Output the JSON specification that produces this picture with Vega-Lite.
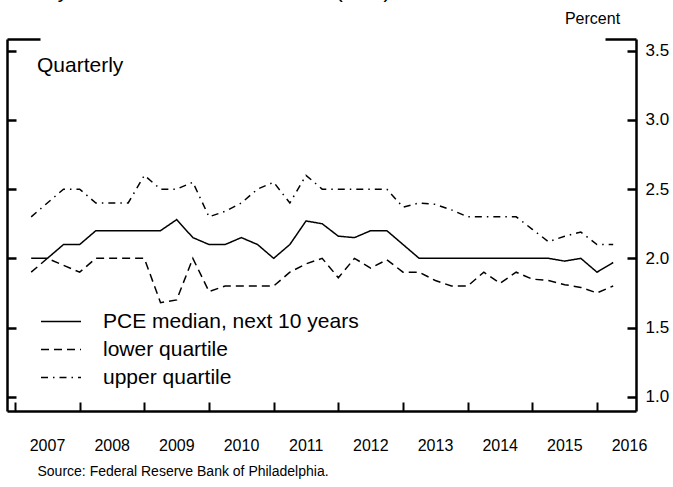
{
  "$schema": "https://vega.github.io/schema/vega-lite/v6.json",
  "width": 629,
  "height": 372,
  "autosize": {"type": "none"},
  "padding": {"left": 7, "top": 39, "right": 37, "bottom": 76},
  "background": "white",
  "title": {
    "text": "Survey of Professional Forecasters (SPF)",
    "anchor": "start",
    "frame": "group",
    "fontSize": 21,
    "fontWeight": "normal",
    "font": "Liberation Sans",
    "color": "black",
    "baseline": "alphabetic",
    "offset": 8,
    "dx": -4,
    "dy": 17
  },
  "config": {
    "view": {"stroke": null},
    "font": "Liberation Sans",
    "axis": {
      "domainColor": "black",
      "tickColor": "black",
      "labelColor": "black",
      "titleColor": "black",
      "grid": false,
      "labelFont": "Liberation Sans",
      "titleFont": "Liberation Sans"
    }
  },
  "datasets": {
    "spf": [
      {"t": 2007.25, "PCE median, next 10 years": 2.0, "lower quartile": 1.9, "upper quartile": 2.3},
      {"t": 2007.5, "PCE median, next 10 years": 2.0, "lower quartile": 2.0, "upper quartile": 2.4},
      {"t": 2007.75, "PCE median, next 10 years": 2.1, "lower quartile": 1.95, "upper quartile": 2.5},
      {"t": 2008.0, "PCE median, next 10 years": 2.1, "lower quartile": 1.9, "upper quartile": 2.5},
      {"t": 2008.25, "PCE median, next 10 years": 2.2, "lower quartile": 2.0, "upper quartile": 2.4},
      {"t": 2008.5, "PCE median, next 10 years": 2.2, "lower quartile": 2.0, "upper quartile": 2.4},
      {"t": 2008.75, "PCE median, next 10 years": 2.2, "lower quartile": 2.0, "upper quartile": 2.4},
      {"t": 2009.0, "PCE median, next 10 years": 2.2, "lower quartile": 2.0, "upper quartile": 2.6},
      {"t": 2009.25, "PCE median, next 10 years": 2.2, "lower quartile": 1.68, "upper quartile": 2.5},
      {"t": 2009.5, "PCE median, next 10 years": 2.28, "lower quartile": 1.7, "upper quartile": 2.5},
      {"t": 2009.75, "PCE median, next 10 years": 2.15, "lower quartile": 2.0, "upper quartile": 2.55},
      {"t": 2010.0, "PCE median, next 10 years": 2.1, "lower quartile": 1.76, "upper quartile": 2.3},
      {"t": 2010.25, "PCE median, next 10 years": 2.1, "lower quartile": 1.8, "upper quartile": 2.34},
      {"t": 2010.5, "PCE median, next 10 years": 2.15, "lower quartile": 1.8, "upper quartile": 2.4},
      {"t": 2010.75, "PCE median, next 10 years": 2.1, "lower quartile": 1.8, "upper quartile": 2.5},
      {"t": 2011.0, "PCE median, next 10 years": 2.0, "lower quartile": 1.8, "upper quartile": 2.55},
      {"t": 2011.25, "PCE median, next 10 years": 2.1, "lower quartile": 1.9, "upper quartile": 2.4},
      {"t": 2011.5, "PCE median, next 10 years": 2.27, "lower quartile": 1.96, "upper quartile": 2.6},
      {"t": 2011.75, "PCE median, next 10 years": 2.25, "lower quartile": 2.0, "upper quartile": 2.5},
      {"t": 2012.0, "PCE median, next 10 years": 2.16, "lower quartile": 1.86, "upper quartile": 2.5},
      {"t": 2012.25, "PCE median, next 10 years": 2.15, "lower quartile": 2.0, "upper quartile": 2.5},
      {"t": 2012.5, "PCE median, next 10 years": 2.2, "lower quartile": 1.93, "upper quartile": 2.5},
      {"t": 2012.75, "PCE median, next 10 years": 2.2, "lower quartile": 1.99, "upper quartile": 2.5},
      {"t": 2013.0, "PCE median, next 10 years": 2.1, "lower quartile": 1.9, "upper quartile": 2.37},
      {"t": 2013.25, "PCE median, next 10 years": 2.0, "lower quartile": 1.9, "upper quartile": 2.4},
      {"t": 2013.5, "PCE median, next 10 years": 2.0, "lower quartile": 1.84, "upper quartile": 2.39},
      {"t": 2013.75, "PCE median, next 10 years": 2.0, "lower quartile": 1.8, "upper quartile": 2.35},
      {"t": 2014.0, "PCE median, next 10 years": 2.0, "lower quartile": 1.8, "upper quartile": 2.3},
      {"t": 2014.25, "PCE median, next 10 years": 2.0, "lower quartile": 1.9, "upper quartile": 2.3},
      {"t": 2014.5, "PCE median, next 10 years": 2.0, "lower quartile": 1.82, "upper quartile": 2.3},
      {"t": 2014.75, "PCE median, next 10 years": 2.0, "lower quartile": 1.9, "upper quartile": 2.3},
      {"t": 2015.0, "PCE median, next 10 years": 2.0, "lower quartile": 1.85, "upper quartile": 2.21},
      {"t": 2015.25, "PCE median, next 10 years": 2.0, "lower quartile": 1.84, "upper quartile": 2.12},
      {"t": 2015.5, "PCE median, next 10 years": 1.98, "lower quartile": 1.81, "upper quartile": 2.16},
      {"t": 2015.75, "PCE median, next 10 years": 2.0, "lower quartile": 1.79, "upper quartile": 2.19},
      {"t": 2016.0, "PCE median, next 10 years": 1.9, "lower quartile": 1.75, "upper quartile": 2.1},
      {"t": 2016.25, "PCE median, next 10 years": 1.97, "lower quartile": 1.8, "upper quartile": 2.1}
    ]
  },
  "layer": [
    {
      "data": {"name": "spf"},
      "transform": [
        {"fold": ["PCE median, next 10 years", "lower quartile", "upper quartile"], "as": ["series", "value"]}
      ],
      "mark": {"type": "line", "color": "black", "strokeWidth": 1.5},
      "encoding": {
        "x": {
          "field": "t",
          "type": "quantitative",
          "scale": {"domain": [2006.876, 2016.603], "nice": false, "zero": false},
          "axis": {
            "orient": "bottom",
            "values": [2007, 2008, 2009, 2010, 2011, 2012, 2013, 2014, 2015, 2016],
            "format": "d",
            "labelOffset": 32,
            "labelFlush": false,
            "labelOverlap": false,
            "labelBound": false,
            "tickSize": -9,
            "tickWidth": 2,
            "domainWidth": 2.5,
            "labelFontSize": 16,
            "labelPadding": 35,
            "title": "Source: Federal Reserve Bank of Philadelphia.",
            "titleAnchor": "start",
            "titleAlign": "left",
            "titleX": 30,
            "titleY": 64,
            "titleBaseline": "alphabetic",
            "titleFontSize": 14,
            "titleFontWeight": "normal"
          }
        },
        "y": {
          "field": "value",
          "type": "quantitative",
          "scale": {"domain": [0.897, 3.585], "nice": false, "zero": false},
          "axis": {
            "orient": "left",
            "values": [1, 1.5, 2, 2.5, 3, 3.5],
            "labels": false,
            "tickSize": -9,
            "tickWidth": 2.5,
            "domainWidth": 2.5,
            "title": null
          }
        },
        "strokeDash": {
          "field": "series",
          "type": "nominal",
          "scale": {
            "domain": ["PCE median, next 10 years", "lower quartile", "upper quartile"],
            "range": [[1, 0], [8, 5], [7, 5, 1.5, 5]]
          },
          "legend": {
            "title": null,
            "orient": "none",
            "legendX": 33,
            "legendY": 272,
            "padding": 0,
            "symbolType": "stroke",
            "symbolSize": 1600,
            "symbolStrokeWidth": 1.5,
            "symbolStrokeColor": "black",
            "clipHeight": 21,
            "rowPadding": 6,
            "labelFontSize": 21,
            "labelFont": "Liberation Sans",
            "labelColor": "black",
            "labelOffset": 21,
            "labelLimit": 500
          }
        }
      }
    },
    {
      "data": {"values": [{}]},
      "mark": {"type": "text", "text": "Quarterly", "align": "left", "baseline": "alphabetic", "fontSize": 21, "font": "Liberation Sans", "color": "black"},
      "encoding": {
        "x": {
          "datum": 2007.34,
          "type": "quantitative",
          "scale": {"domain": [2006.876, 2016.603], "nice": false, "zero": false},
          "axis": {
            "orient": "top",
            "ticks": false,
            "labels": false,
            "title": null,
            "domainWidth": 2.5,
            "domainDash": [33, 565, 31]
          }
        },
        "y": {
          "datum": 3.35,
          "type": "quantitative",
          "scale": {"domain": [0.897, 3.585], "nice": false, "zero": false},
          "axis": {
            "orient": "right",
            "values": [1, 1.5, 2, 2.5, 3, 3.5],
            "format": ".1f",
            "tickSize": -9,
            "tickWidth": 2.5,
            "domainWidth": 2.5,
            "labelFontSize": 17,
            "labelPadding": 18,
            "labelOverlap": false,
            "labelFlush": false,
            "title": "Percent",
            "titleAngle": 0,
            "titleX": -44,
            "titleY": -16,
            "titleAlign": "center",
            "titleBaseline": "alphabetic",
            "titleFontSize": 16,
            "titleFontWeight": "normal"
          }
        }
      }
    }
  ],
  "resolve": {"axis": {"x": "independent", "y": "independent"}}
}
